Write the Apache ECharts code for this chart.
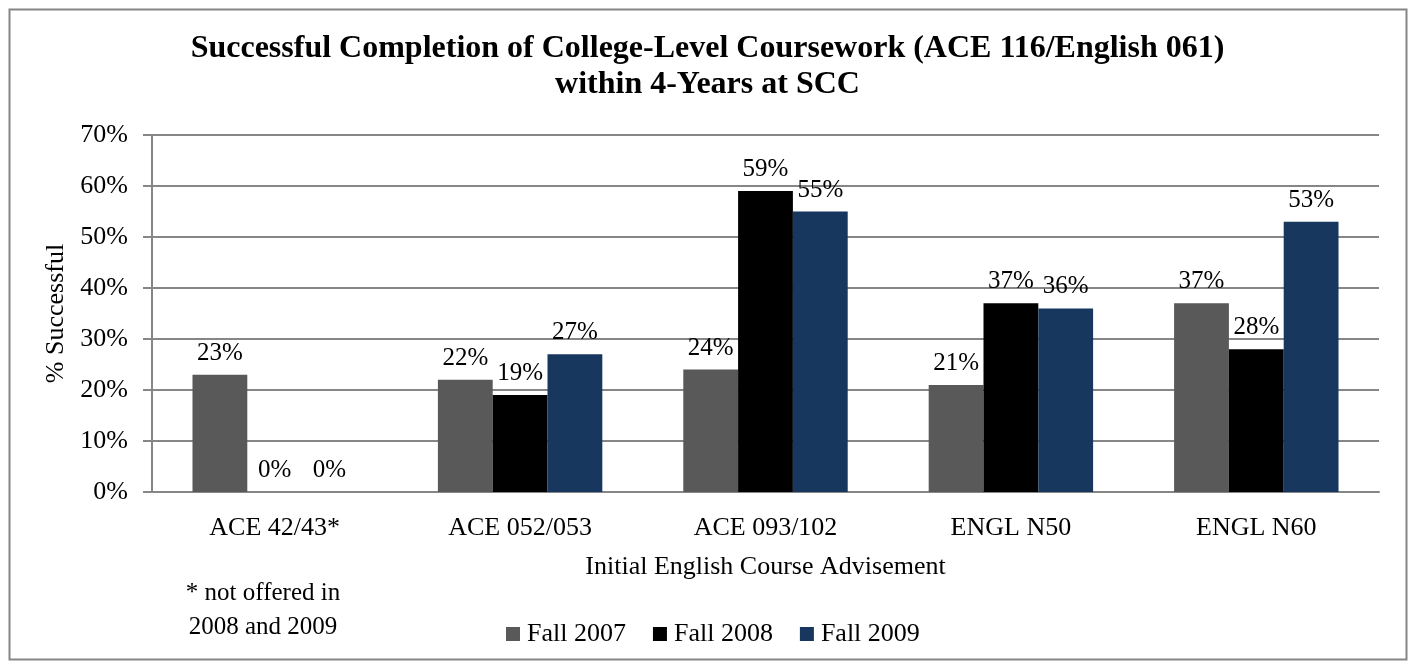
<!DOCTYPE html>
<html><head><meta charset="utf-8">
<script src="https://cdn.jsdelivr.net/npm/echarts@6/dist/echarts.min.js"></script>
<style>html,body{margin:0;padding:0;background:#fff}#c{width:1415px;height:664px}</style>
</head><body><div id="c"></div>
<script>
const categories = ['ACE 42/43*', 'ACE 052/053', 'ACE 093/102', 'ENGL N50', 'ENGL N60'];
const fall2007 = [23, 22, 24, 21, 37];
const fall2008 = [0, 19, 59, 37, 28];
const fall2009 = [0, 27, 55, 36, 53];
const seriesNames = ['Fall 2007', 'Fall 2008', 'Fall 2009'];
const colors = ['#595959', '#000000', '#17375E'];
const yTicks = [0, 10, 20, 30, 40, 50, 60, 70];

const serif = '"Liberation Serif", "DejaVu Serif", serif';
const chart = echarts.init(document.getElementById('c'));
const values = [fall2007, fall2008, fall2009];
chart.setOption({
  animation: false,
  title: {
    text: 'Successful Completion of College-Level Coursework (ACE 116/English 061)\nwithin 4-Years at SCC',
    left: 'center', top: 26,
    textStyle: {fontFamily: serif, fontWeight: 'bold', fontSize: 32, lineHeight: 36, color: '#000'}
  },
  legend: {
    data: seriesNames, top: 616, left: 501,
    itemWidth: 14, itemHeight: 14, itemGap: 27,
    icon: 'rect',
    textStyle: {fontFamily: serif, fontSize: 26, color: '#000', padding: [0,0,0,2]}
  },
  grid: {left: 152, right: 36, top: 135, bottom: 172},
  xAxis: {
    type: 'category', data: categories,
    name: 'Initial English Course Advisement', nameLocation: 'middle', nameGap: 62,
    nameTextStyle: {fontFamily: serif, fontSize: 26, color: '#000'},
    axisLine: {show: true, lineStyle: {color: '#868686', width: 2}},
    axisTick: {show: false},
    axisLabel: {fontFamily: serif, fontSize: 26, color: '#000', margin: 23}
  },
  yAxis: {
    type: 'value', min: 0, max: 70, interval: 10,
    name: '% Successful', nameLocation: 'middle', nameGap: 82,
    nameTextStyle: {fontFamily: serif, fontSize: 26, color: '#000'},
    axisLine: {show: true, lineStyle: {color: '#868686', width: 2}},
    axisTick: {show: true, length: 9, lineStyle: {color: '#868686', width: 2}},
    splitLine: {lineStyle: {color: '#868686', width: 2}},
    axisLabel: {fontFamily: serif, fontSize: 26, color: '#000', margin: 24,
      formatter: v => yTicks.includes(v) ? v + '%' : ''}
  },
  series: seriesNames.map((n, i) => ({
    name: n, type: 'bar', data: values[i],
    barGap: '0%', barCategoryGap: '33%',
    itemStyle: {color: colors[i]},
    label: {show: true, position: 'top', distance: 9, formatter: p => p.value + '%',
      fontFamily: serif, fontSize: 25, color: '#000'}
  })),
  graphic: [
    {type: 'rect', shape: {x: 9.5, y: 9.5, width: 1397, height: 650},
     style: {fill: 'none', stroke: '#868686', lineWidth: 2}, silent: true},
    {type: 'text', x: 263, y: 576,
     style: {text: '* not offered in\n2008 and 2009', fontFamily: serif, fontSize: 25,
       lineHeight: 34, fill: '#000', align: 'center', verticalAlign: 'top'}}
  ]
});
</script></body></html>
